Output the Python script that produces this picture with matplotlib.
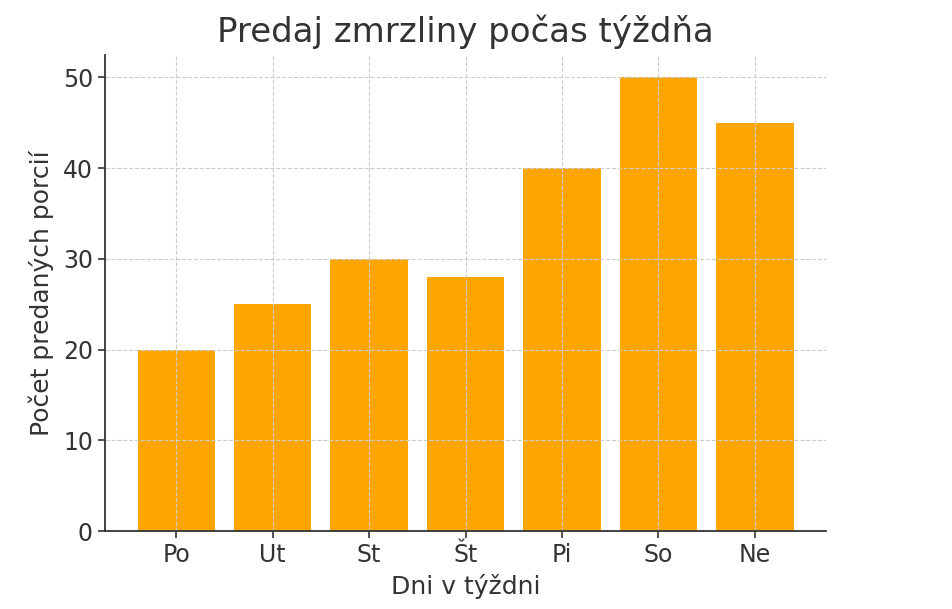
import matplotlib
matplotlib.use("Agg")
import matplotlib.pyplot as plt

days = ["Po", "Ut", "St", "Št", "Pi", "So", "Ne"]
sales = [20, 25, 30, 28, 40, 50, 45]

plt.rcParams['font.family'] = ['DejaVu Sans']
text_color = '#333333'

fig = plt.figure(figsize=(9.52, 6.09), dpi=100)
ax = fig.add_axes([0.110, 0.128, 0.758, 0.782])
ax.bar(days, sales, color='#FFA500', width=0.8)
ax.grid(True, color='#cccccc', linestyle='--', linewidth=0.8)
ax.set_title("Predaj zmrzliny počas týždňa", fontsize=24.5, color=text_color, pad=9)
ax.set_xlabel("Dni v týždni", fontsize=18, color=text_color, labelpad=5)
ax.set_ylabel("Počet predaných porcií", fontsize=18, color=text_color, labelpad=6)
ax.tick_params(labelsize=17, colors=text_color, width=1.2, length=5)
for s in ['top', 'right']:
    ax.spines[s].set_visible(False)
for s in ['left', 'bottom']:
    ax.spines[s].set_color(text_color)
    ax.spines[s].set_linewidth(1.3)
ax.set_yticks([0, 10, 20, 30, 40, 50])

fig.savefig("out.png", dpi=100)
